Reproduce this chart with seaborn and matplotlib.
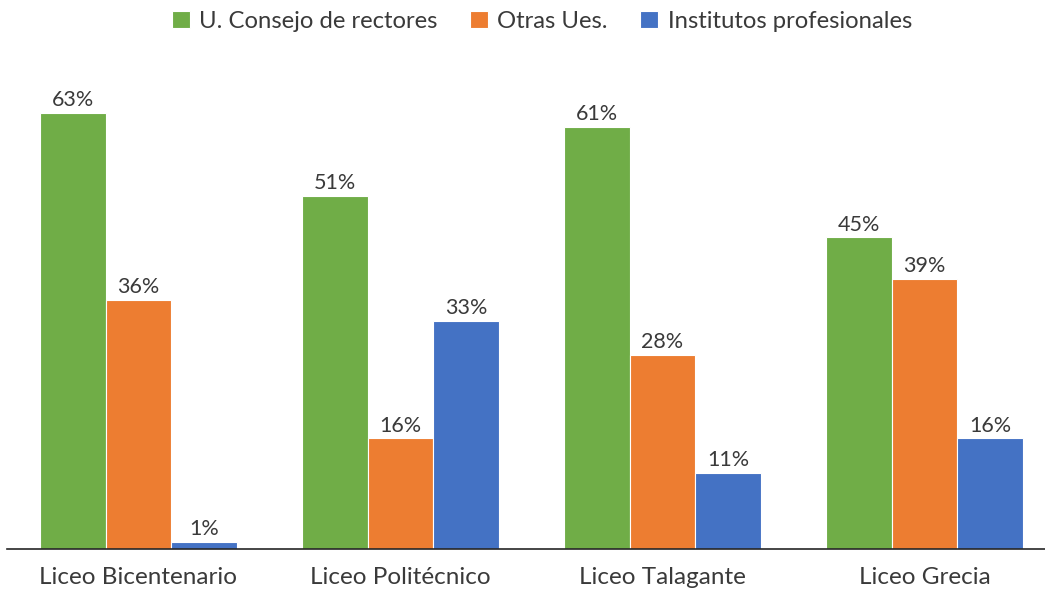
import matplotlib
matplotlib.use("Agg")
import matplotlib.pyplot as plt
import seaborn as sns
import pandas as pd

# data
liceos = ["Liceo Bicentenario", "Liceo Politécnico", "Liceo Talagante", "Liceo Grecia"]
series = ["U. Consejo de rectores", "Otras Ues.", "Institutos profesionales"]
consejo = [63, 51, 61, 45]
otras = [36, 16, 28, 39]
institutos = [1, 33, 11, 16]
colores = ["#70AD47", "#ED7D31", "#4472C4"]

df = pd.DataFrame({
    "liceo": liceos * 3,
    "tipo": [series[0]] * 4 + [series[1]] * 4 + [series[2]] * 4,
    "pct": consejo + otras + institutos,
})

sns.set_theme(style="white")
plt.rcParams["font.family"] = ["Lato", "DejaVu Sans"]

fig = plt.figure(figsize=(10.45, 5.95), dpi=100)
ax = fig.add_axes([0.007, 0.077, 1.003, 0.815])

sns.barplot(data=df, x="liceo", y="pct", hue="tipo", hue_order=series,
            palette=colores, width=0.75, ax=ax, saturation=1,
            edgecolor="white", linewidth=0.8)

for cont in ax.containers:
    ax.bar_label(cont, fmt="%g%%", fontsize=15.5, color="#3a3a3a", padding=2)

ax.set_ylim(0, 70)
ax.set_xlim(-0.5, 3.5)
ax.set_xlabel("")
ax.set_ylabel("")
ax.set_yticks([])
ax.tick_params(axis="x", labelsize=17.5, colors="#3a3a3a", length=0, pad=13)
for s in ["top", "right", "left"]:
    ax.spines[s].set_visible(False)
ax.spines["bottom"].set_color("#262626")
ax.spines["bottom"].set_linewidth(1.2)

leg = ax.legend(loc="upper center", bbox_to_anchor=(0.51, 1.155), ncol=3,
                frameon=False, fontsize=17.2, handlelength=0.75, handleheight=0.75,
                columnspacing=1.35, handletextpad=0.4)
for t in leg.get_texts():
    t.set_color("#3a3a3a")

plt.savefig("out.png", dpi=100)
